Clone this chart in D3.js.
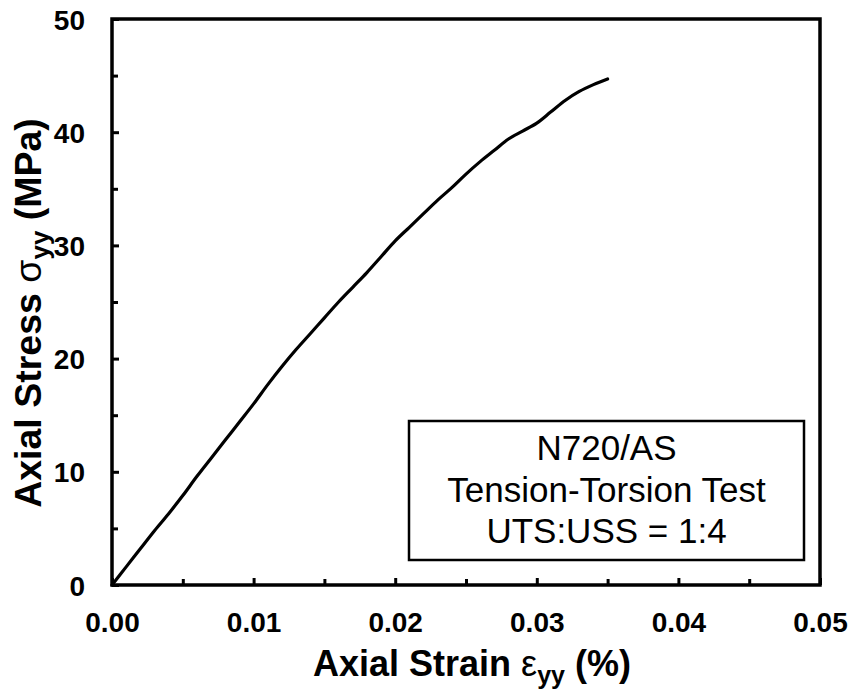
<!DOCTYPE html>
<html>
<head>
<meta charset="utf-8">
<script src="https://cdn.jsdelivr.net/npm/d3@7"></script>
<style>
  html, body { margin: 0; padding: 0; background: #fff; }
  svg { display: block; }
</style>
</head>
<body>
<svg id="chart" width="857" height="689"></svg>
<script>
// ---- data ----
const strain = [0, 0.0010, 0.0020, 0.0030, 0.0040, 0.0050, 0.0060, 0.0070, 0.0080, 0.0090,
  0.0100, 0.0110, 0.0120, 0.0130, 0.0140, 0.0150, 0.0160, 0.0170, 0.0180, 0.0190, 0.0200, 0.0210,
  0.0220, 0.0230, 0.0240, 0.0250, 0.0260, 0.0270, 0.0280, 0.0290, 0.0300, 0.0310, 0.0320, 0.0330,
  0.0340, 0.0350];
const stress = [0, 1.6, 3.2, 4.8, 6.3, 7.9, 9.6, 11.2, 12.8, 14.4,
  16.0, 17.7, 19.3, 20.8, 22.2, 23.6, 25.0, 26.3, 27.6, 29.0, 30.4, 31.6,
  32.8, 34.0, 35.1, 36.3, 37.4, 38.4, 39.4, 40.1, 40.8, 41.8, 42.8, 43.6,
  44.2, 44.7];
const xTickValues = [0, 0.01, 0.02, 0.03, 0.04, 0.05];
const xTickLabels = ["0.00", "0.01", "0.02", "0.03", "0.04", "0.05"];
const yTickValues = [0, 10, 20, 30, 40, 50];
const yTickLabels = ["0", "10", "20", "30", "40", "50"];
const xMinorTicks = [0.005, 0.015, 0.025, 0.035, 0.045];
const yMinorTicks = [5, 15, 25, 35, 45];
const legendLines = ["N720/AS", "Tension-Torsion Test", "UTS:USS = 1:4"];

// ---- layout ----
const L = 112, R = 820, T = 19, B = 585;
const svg = d3.select("#chart");
const x = d3.scaleLinear().domain([0, 0.05]).range([L, R]);
const y = d3.scaleLinear().domain([0, 50]).range([B, T]);
const FONT = "'Liberation Sans', Arial, Helvetica, sans-serif";

// axes (inward ticks)
const xAxis = svg.append("g").attr("transform", `translate(0,${B})`)
  .call(d3.axisBottom(x).tickValues(xTickValues).tickSizeInner(-7).tickSizeOuter(0)
    .tickFormat((d, i) => xTickLabels[i]));
const xMinor = svg.append("g").attr("transform", `translate(0,${B})`)
  .call(d3.axisBottom(x).tickValues(xMinorTicks).tickSizeInner(-6).tickSizeOuter(0).tickFormat(""));
const yAxis = svg.append("g").attr("transform", `translate(${L},0)`)
  .call(d3.axisLeft(y).tickValues(yTickValues).tickSizeInner(-7).tickSizeOuter(0)
    .tickFormat((d, i) => yTickLabels[i]));
const yMinor = svg.append("g").attr("transform", `translate(${L},0)`)
  .call(d3.axisLeft(y).tickValues(yMinorTicks).tickSizeInner(-6).tickSizeOuter(0).tickFormat(""));

[xAxis, xMinor, yAxis, yMinor].forEach(g => {
  g.select(".domain").remove();
  g.selectAll(".tick line").attr("stroke", "#000").attr("stroke-width", 3);
  g.selectAll(".tick text").attr("fill", "#000")
    .style("font-family", FONT).style("font-weight", "bold").style("font-size", "28px");
});
xAxis.selectAll(".tick text").attr("y", 0).attr("dy", null).attr("transform", "translate(0,47)");
yAxis.selectAll(".tick text").attr("x", -27).attr("dy", "0.36em");

// frame
svg.append("rect").attr("x", L).attr("y", T).attr("width", R - L).attr("height", B - T)
  .attr("fill", "none").attr("stroke", "#000").attr("stroke-width", 3.5);

// curve
const pts = strain.map((s, i) => [s, stress[i]]);
svg.append("path").datum(pts)
  .attr("fill", "none").attr("stroke", "#000").attr("stroke-width", 3.2)
  .attr("stroke-linejoin", "round").attr("stroke-linecap", "round")
  .attr("d", d3.line().x(d => x(d[0])).y(d => y(d[1])).curve(d3.curveCatmullRom));

// legend box
svg.append("rect").attr("x", 409).attr("y", 421).attr("width", 395).attr("height", 139)
  .attr("fill", "#fff").attr("stroke", "#000").attr("stroke-width", 2.5);
legendLines.forEach((t, i) => {
  svg.append("text").attr("x", 606.5).attr("y", 460 + i * 41.5)
    .attr("text-anchor", "middle").style("font-family", FONT).style("font-size", "35px")
    .attr("fill", "#000").text(t);
});

// x title
const xt = svg.append("text").attr("x", 472).attr("y", 676).attr("text-anchor", "middle")
  .style("font-family", FONT).style("font-weight", "bold").style("font-size", "36px").attr("fill", "#000");
xt.append("tspan").text("Axial Strain ");
xt.append("tspan").style("font-weight", "normal").text("ε");
xt.append("tspan").attr("dy", 8).style("font-size", "25px").text("yy");
xt.append("tspan").attr("dy", -8).text(" (%)");

// y title
const yt = svg.append("text").attr("transform", "translate(41,313) rotate(-90)").attr("text-anchor", "middle")
  .style("font-family", FONT).style("font-weight", "bold").style("font-size", "37.5px").attr("fill", "#000");
yt.append("tspan").text("Axial Stress ");
yt.append("tspan").style("font-weight", "normal").text("σ");
yt.append("tspan").attr("dy", 8).style("font-size", "26px").text("yy");
yt.append("tspan").attr("dy", -8).text(" (MPa)");
</script>
</body>
</html>
